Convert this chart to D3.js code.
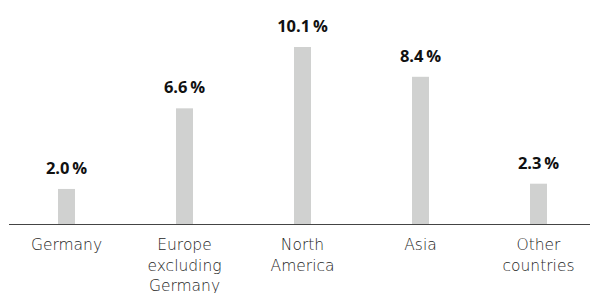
<!DOCTYPE html>
<html>
<head>
<meta charset="utf-8">
<script src="https://cdn.jsdelivr.net/npm/d3@7"></script>
<style>
  body { margin: 0; background: #fff; }
  svg { display: block; }
  .cat-label { font-family: "DejaVu Sans", sans-serif; font-weight: 200; font-size: 15.5px; fill: #1e1e1e; }
  .val-label { font-family: "Open Sans", sans-serif; font-weight: 700; font-size: 16.5px; fill: #111; }
</style>
</head>
<body>
<div id="chart"></div>
<script>
// --- Data ---
const categories = [
    ["Germany"],
    ["Europe", "excluding", "Germany"],
    ["North", "America"],
    ["Asia"],
    ["Other", "countries"]
];
const shares = [2.0, 6.6, 10.1, 8.4, 2.3];
const valueLabels = ["2.0\u2009%", "6.6\u2009%", "10.1\u2009%", "8.4\u2009%", "2.3\u2009%"];

// --- Dimensions ---
const width = 590, height = 293;
const baseline = 224;

const svg = d3.select("#chart")
    .append("svg")
    .attr("width", width)
    .attr("height", height);

// --- Scales ---
const xScale = d3.scaleBand()
    .domain(d3.range(shares.length))
    .range([7.5, 597.5])
    .paddingInner(0.856)
    .paddingOuter(0.428);

const yScale = d3.scaleLinear()
    .domain([0, 10.1])
    .range([baseline, 47]);

// Bars
svg.append("g")
    .selectAll("rect")
    .data(shares)
    .join("rect")
    .attr("x", (d, i) => xScale(i))
    .attr("y", d => yScale(d))
    .attr("width", xScale.bandwidth())
    .attr("height", d => baseline - yScale(d))
    .attr("fill", "#d0d1d0");

// Value labels above bars
svg.append("g")
    .selectAll("text")
    .data(shares)
    .join("text")
    .attr("class", "val-label")
    .attr("x", (d, i) => xScale(i) + xScale.bandwidth() / 2)
    .attr("y", d => yScale(d) - 15)
    .attr("text-anchor", "middle")
    .text((d, i) => valueLabels[i]);

// Baseline
svg.append("line")
    .attr("x1", 9)
    .attr("x2", width)
    .attr("y1", baseline + 0.5)
    .attr("y2", baseline + 0.5)
    .attr("stroke", "#444")
    .attr("stroke-width", 1.2);

// Category labels (multi-line)
const catGroup = svg.append("g");
categories.forEach((lines, i) => {
    const t = catGroup.append("text")
        .attr("class", "cat-label")
        .attr("text-anchor", "middle")
        .attr("x", xScale(i) + xScale.bandwidth() / 2)
        .attr("y", 250);
    lines.forEach((line, j) => {
        t.append("tspan")
            .attr("x", xScale(i) + xScale.bandwidth() / 2)
            .attr("dy", j === 0 ? 0 : 20.5)
            .text(line);
    });
});
</script>
</body>
</html>
